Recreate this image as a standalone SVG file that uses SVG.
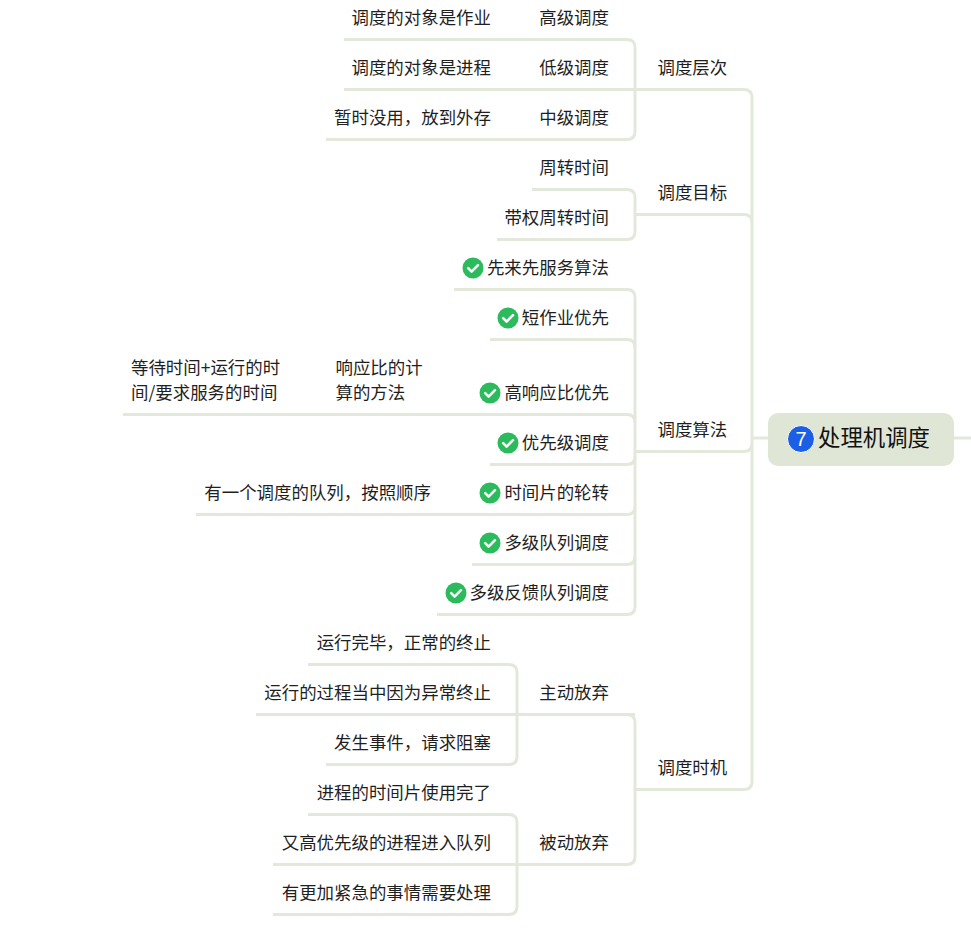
<svg xmlns="http://www.w3.org/2000/svg" width="971" height="929" viewBox="0 0 971 929">
<style>
.c{fill:none;stroke:#E3E9DA;stroke-width:3;stroke-linecap:butt}
text{font-family:"Noto Sans CJK SC","Liberation Sans",sans-serif;font-size:17.45px;fill:#1f1f1f}
.r{text-anchor:end}
.t{font-size:22.4px;fill:#111}
.k{fill:#2BBB5C}
.m{fill:none;stroke:#fff;stroke-width:2.6;stroke-linecap:round;stroke-linejoin:round}
</style>
<defs>
<g id="ok"><circle class="k" r="10.5"/><path class="m" d="M-4.8 0.2L-1.4 3.6L5 -2.8"/></g>
</defs>
<rect width="971" height="929" fill="#fff"/>
<g id="connectors">
<path class="c" d="M954 438H971"/>
<path class="c" d="M768 438H752"/>
<path class="c" d="M635 89.500H744Q752 89.500 752 97.500V781.500Q752 789.500 744 789.500H635"/>
<path class="c" d="M635 214.500H744Q752 214.500 752 222.500"/>
<path class="c" d="M635 451.500H744Q752 451.500 752 443.500"/>
<path class="c" d="M344 39.500H627Q635 39.500 635 47.500V131.500Q635 139.500 627 139.500H326"/>
<path class="c" d="M344 89.500H650"/>
<path class="c" d="M532 189.500H627Q635 189.500 635 197.500V231.500Q635 239.500 627 239.500H497"/>
<path class="c" d="M454 289.500H627Q635 289.500 635 297.500V606.500Q635 614.500 627 614.500H437"/>
<path class="c" d="M490 339.500H627Q635 339.500 635 347.500"/>
<path class="c" d="M123 414.500H627Q635 414.500 635 422.500"/>
<path class="c" d="M490 464.500H627Q635 464.500 635 456.500"/>
<path class="c" d="M196 514.500H627Q635 514.500 635 506.500"/>
<path class="c" d="M472 564.500H627Q635 564.500 635 556.500"/>
<path class="c" d="M635 451.500H650"/>
<path class="c" d="M635 714.500H627Q635 714.500 635 722.500V856.500Q635 864.500 627 864.500H517"/>
<path class="c" d="M517 714.500H627"/>
<path class="c" d="M308 664.500H509Q517 664.500 517 672.500V756.500Q517 764.500 509 764.500H326"/>
<path class="c" d="M256 714.500H533"/>
<path class="c" d="M308 814.500H509Q517 814.500 517 822.500V906.500Q517 914.500 509 914.500H273"/>
<path class="c" d="M273 864.500H533"/>
</g>
<g id="root">
<rect x="768" y="413" width="186" height="53" rx="10" fill="#DFE6D5"/>
<circle cx="801" cy="439" r="13.500" fill="#1A5FE6" stroke="#fff" stroke-width="1"/>
<text x="801" y="446" text-anchor="middle" style="font-family:'Liberation Sans',sans-serif;font-size:20px;fill:#fff">7</text>
<text class="t" x="818" y="446">处理机调度</text>
</g>
<g id="n-cengci"><text x="657.500" y="74">调度层次</text></g>
<g id="n-mubiao"><text x="657.500" y="199">调度目标</text></g>
<g id="n-suanfa"><text x="657.500" y="436">调度算法</text></g>
<g id="n-shiji"><text x="657.500" y="774">调度时机</text></g>
<g id="n-gaoji"><text class="r" x="609" y="24">高级调度</text></g>
<g id="n-gaoji-d"><text class="r" x="491" y="24">调度的对象是作业</text></g>
<g id="n-diji"><text class="r" x="609" y="74">低级调度</text></g>
<g id="n-diji-d"><text class="r" x="491" y="74">调度的对象是进程</text></g>
<g id="n-zhongji"><text class="r" x="609" y="124">中级调度</text></g>
<g id="n-zhongji-d"><text class="r" x="491" y="124">暂时没用，放到外存</text></g>
<g id="n-zhouzhuan"><text class="r" x="609" y="174">周转时间</text></g>
<g id="n-daiquan"><text class="r" x="609" y="224">带权周转时间</text></g>
<g id="n-fcfs"><use href="#ok" x="473" y="268"/><text class="r" x="609" y="274">先来先服务算法</text></g>
<g id="n-sjf"><use href="#ok" x="508" y="318"/><text class="r" x="609" y="324">短作业优先</text></g>
<g id="n-hrrn"><use href="#ok" x="490" y="393"/><text class="r" x="609" y="399">高响应比优先</text></g>
<g id="n-hrrn-a"><text x="335.500" y="374">响应比的计</text><text x="335.500" y="399">算的方法</text></g>
<g id="n-hrrn-b"><text x="131" y="374">等待时间+运行的时</text><text x="131" y="399">间/要求服务的时间</text></g>
<g id="n-prio"><use href="#ok" x="508" y="443"/><text class="r" x="609" y="449">优先级调度</text></g>
<g id="n-rr"><use href="#ok" x="490" y="493"/><text class="r" x="609" y="499">时间片的轮转</text></g>
<g id="n-rr-d"><text class="r" x="431" y="499">有一个调度的队列，按照顺序</text></g>
<g id="n-mlq"><use href="#ok" x="490" y="543"/><text class="r" x="609" y="549">多级队列调度</text></g>
<g id="n-mlfq"><use href="#ok" x="456" y="593"/><text class="r" x="609" y="599">多级反馈队列调度</text></g>
<g id="n-zhudong"><text class="r" x="609" y="699">主动放弃</text></g>
<g id="n-z1"><text class="r" x="491" y="649">运行完毕，正常的终止</text></g>
<g id="n-z2"><text class="r" x="491" y="699">运行的过程当中因为异常终止</text></g>
<g id="n-z3"><text class="r" x="491" y="749">发生事件，请求阻塞</text></g>
<g id="n-beidong"><text class="r" x="609" y="849">被动放弃</text></g>
<g id="n-b1"><text class="r" x="491" y="799">进程的时间片使用完了</text></g>
<g id="n-b2"><text class="r" x="491" y="849">又高优先级的进程进入队列</text></g>
<g id="n-b3"><text class="r" x="491" y="899">有更加紧急的事情需要处理</text></g>
</svg>
